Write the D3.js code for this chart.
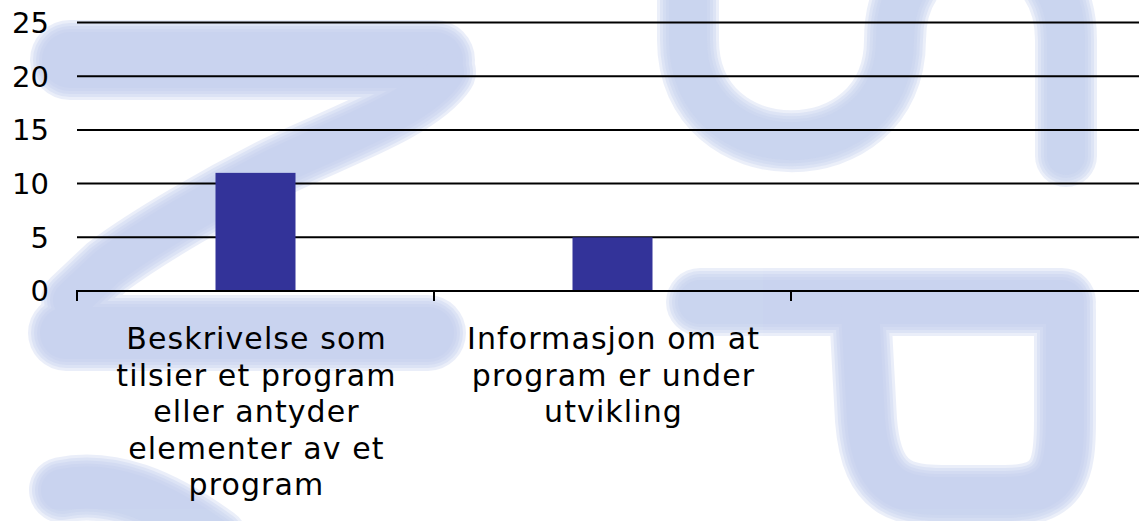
<!DOCTYPE html>
<html>
<head>
<meta charset="utf-8">
<script src="https://cdn.jsdelivr.net/npm/d3@7"></script>
<style>
  html, body { margin: 0; padding: 0; background: #fff; }
  text { font-family: "DejaVu Sans", Verdana, sans-serif; fill: #000; }
</style>
</head>
<body>
<div id="viz"></div>
<script>
// data
const categories = ["cat1", "cat2", "cat3"];
const values = [11, 5, null];
const categoryLines = [
  ["Beskrivelse som", "tilsier et program", "eller antyder", "elementer av et", "program"],
  ["Informasjon om at", "program er under", "utvikling"],
  []
];
const yTicks = [0, 5, 10, 15, 20, 25];

let w = 1139;
let h = 521;
let left = 77;
let bandW = 357;
let y0 = 291;
let y25 = 22.5;

const svg = d3.select("#viz")
  .append("svg")
  .attr("width", w)
  .attr("height", h);

// soft watermark in the background (stacked strokes give a fuzzy edge)
const wmPaths = [
  // Z shape on the left
  { d: "M70,60 L435,60", sw: 68 },
  { d: "M445,72 C420,110 330,140 276,167 C220,195 150,235 107,267 L72,300", sw: 50 },
  { d: "M66,333 L428,333", sw: 64 },
  { d: "M62,490 C110,480 160,500 215,540", sw: 54 },
  // arcs top right
  { d: "M688,-20 L688,40 C688,175 895,175 895,40 C895,-85 1066,-85 1066,40 L1066,156", sw: 50 },
  // O shape bottom right
  { d: "M700,302 L1062,302", sw: 56 },
  { d: "M860,310 L866,420 C872,495 905,497 960,496 L1005,496 C1060,496 1065,470 1065,420 L1065,310", sw: 50 }
];
const spread = [12, 6, 0, -6, -12];

const wm = svg.append("g")
  .attr("fill", "none")
  .attr("stroke", "#c2cdee")
  .attr("stroke-linejoin", "round")
  .attr("stroke-linecap", "round");

spread.forEach(s => {
  let layer = wm.append("g")
    .attr("opacity", 0.33);
  layer.selectAll("path")
    .data(wmPaths)
    .enter()
    .append("path")
    .attr("d", d => d.d)
    .attr("stroke-width", d => d.sw + s);
});

const xScale = d3.scaleBand()
  .domain(categories)
  .range([left, left + bandW * categories.length])
  .paddingInner(0)
  .paddingOuter(0);

const yScale = d3.scaleLinear()
  .domain([0, 25])
  .range([y0, y25]);

// gridlines
let gridGroup = svg.append("g");
gridGroup.selectAll("line")
  .data(yTicks)
  .enter()
  .append("line")
  .attr("x1", left)
  .attr("x2", w)
  .attr("y1", d => yScale(d))
  .attr("y2", d => yScale(d))
  .attr("stroke", "black")
  .attr("stroke-width", 2);

// y labels
svg.append("g").selectAll("text")
  .data(yTicks)
  .enter()
  .append("text")
  .attr("x", 49)
  .attr("y", d => yScale(d))
  .attr("dy", "0.36em")
  .attr("text-anchor", "end")
  .attr("font-size", 29)
  .text(d => d);

// category ticks
let tickPos = categories.map(c => xScale(c));
svg.append("g").selectAll("line")
  .data(tickPos)
  .enter()
  .append("line")
  .attr("x1", d => d)
  .attr("x2", d => d)
  .attr("y1", yScale(0) - 1)
  .attr("y2", yScale(0) + 10)
  .attr("stroke", "black")
  .attr("stroke-width", 2);

// bars
let barW = 80;
svg.append("g").selectAll("rect")
  .data(categories.map((c, i) => ({ c: c, v: values[i] })).filter(d => d.v != null))
  .enter()
  .append("rect")
  .attr("x", d => xScale(d.c) + xScale.bandwidth() / 2 - barW / 2)
  .attr("y", d => yScale(d.v))
  .attr("width", barW)
  .attr("height", d => yScale(0) - yScale(d.v) - 1)
  .attr("fill", "#333399");

// category labels
let labelGroup = svg.append("g");
categories.forEach((c, i) => {
  let t = labelGroup.append("text")
    .attr("text-anchor", "middle")
    .attr("font-size", 30)
    .attr("letter-spacing", 1.1);
  categoryLines[i].forEach((line, j) => {
    t.append("tspan")
      .attr("x", xScale(c) + xScale.bandwidth() / 2 + 1)
      .attr("y", 349 + j * 36.6)
      .text(line);
  });
});
</script>
</body>
</html>
